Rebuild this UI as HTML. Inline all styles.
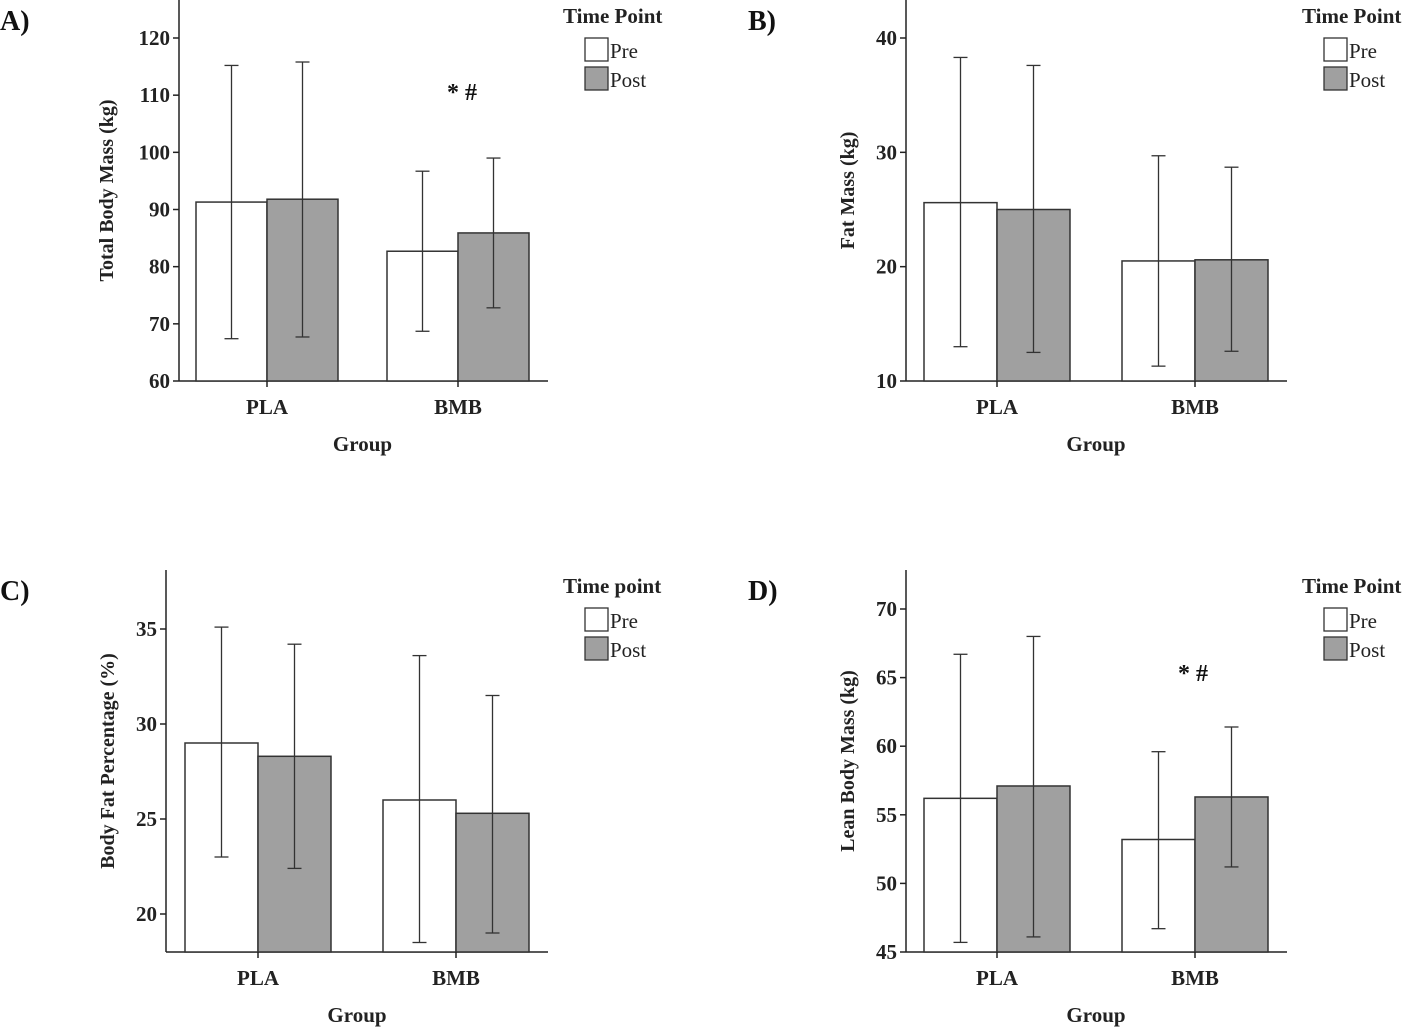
<!DOCTYPE html>
<html><head><meta charset="utf-8"><style>
body{margin:0;background:#fff}
svg{display:block;font-family:"Liberation Serif",serif}
</style></head><body>
<svg id="c" width="1418" height="1028"></svg>
<script>
const categories=["PLA","BMB"];
const aPre=[91.3,82.7], aPost=[91.8,85.9], aPreLo=[67.4,68.7], aPreHi=[115.2,96.7], aPostLo=[67.7,72.8], aPostHi=[115.8,99.0], aTicks=[60,70,80,90,100,110,120];
const bPre=[25.6,20.5], bPost=[25.0,20.6], bPreLo=[13.0,11.3], bPreHi=[38.3,29.7], bPostLo=[12.5,12.6], bPostHi=[37.6,28.7], bTicks=[10,20,30,40];
const cPre=[29.0,26.0], cPost=[28.3,25.3], cPreLo=[23.0,18.5], cPreHi=[35.1,33.6], cPostLo=[22.4,19.0], cPostHi=[34.2,31.5], cTicks=[20,25,30,35];
const dPre=[56.2,53.2], dPost=[57.1,56.3], dPreLo=[45.7,46.7], dPreHi=[66.7,59.6], dPostLo=[46.1,51.2], dPostHi=[68.0,61.4], dTicks=[45,50,55,60,65,70];
const NS="http://www.w3.org/2000/svg", svg=document.getElementById('c');
function mk(t,a,p,name){const e=document.createElementNS(NS,t);for(const k in a)e.setAttribute(k,a[k]);


(p||svg).appendChild(e);return e;}
function panel(o){
  const g=mk('g',{},svg,o.id);
  const y=v=>o.y0+(v-o.v0)*(o.y1-o.y0)/(o.v1-o.v0);
  mk('line',{x1:o.ax,y1:o.top,x2:o.ax,y2:o.bottom,stroke:'#222','stroke-width':1.5},g,'y-axis');
  mk('line',{x1:o.ax,y1:o.bottom,x2:o.axEnd,y2:o.bottom,stroke:'#222','stroke-width':1.5},g,'x-axis');
  o.ticks.forEach(t=>{const ty=y(t);
    mk('line',{x1:o.ax-6,y1:ty,x2:o.ax,y2:ty,stroke:'#222','stroke-width':1.5},g,'y-tick');
    const tx=mk('text',{x:o.ax-9,y:ty+7,'text-anchor':'end','font-size':21,'font-weight':'bold',fill:'#222'},g,'y-tick-label');tx.textContent=t;});
  const t=mk('text',{transform:`translate(${o.ax-o.tOff},${(o.top+o.bottom)/2}) rotate(-90)`,'text-anchor':'middle','font-size':20,'font-weight':'bold',fill:'#222'},g,'y-axis-title');t.textContent=o.title;
  categories.forEach((c,i)=>{
    const cx=o.cx[i],w=o.bw;
    [[o.pre,o.preLo,o.preHi,'#fff',cx-w,'pre'],[o.post,o.postLo,o.postHi,'#a0a0a0',cx,'post']].forEach(s=>{
      const v=s[0][i],top=y(v);
      mk('rect',{x:s[4],y:top,width:w,height:o.bottom-top,fill:s[3],stroke:'#333','stroke-width':1.5},g,'bar-'+c.toLowerCase()+'-'+s[5]);
      const m=s[4]+w/2,lo=y(s[1][i]),hi=y(s[2][i]);
      mk('line',{x1:m,y1:lo,x2:m,y2:hi,stroke:'#333','stroke-width':1.3},g,'error-bar');
      mk('line',{x1:m-7,y1:lo,x2:m+7,y2:lo,stroke:'#333','stroke-width':1.3},g,'error-cap');
      mk('line',{x1:m-7,y1:hi,x2:m+7,y2:hi,stroke:'#333','stroke-width':1.3},g,'error-cap');
    });
    mk('line',{x1:cx,y1:o.bottom,x2:cx,y2:o.bottom+6,stroke:'#222','stroke-width':1.5},g,'x-tick');
    const l=mk('text',{x:cx,y:o.bottom+33,'text-anchor':'middle','font-size':21,'font-weight':'bold',fill:'#222'},g,'x-tick-label');l.textContent=c;
  });
  const gx=mk('text',{x:(o.cx[0]+o.cx[1])/2,y:o.bottom+70,'text-anchor':'middle','font-size':21,'font-weight':'bold',fill:'#222'},g,'x-axis-title');gx.textContent='Group';
  const L=mk('text',{x:o.labX,y:o.top+30,'font-size':28,'font-weight':'bold',fill:'#111'},g,'panel-label');L.textContent=o.label;
  const lx=o.lx,ly=o.top;
  const lt=mk('text',{x:lx,y:ly+23,'font-size':21,'font-weight':'bold',fill:'#222'},g,'legend-title');lt.textContent=o.legTitle;
  [['Pre','#fff',38],['Post','#a0a0a0',67]].forEach(e=>{
    mk('rect',{x:lx+22,y:ly+e[2],width:23,height:23,fill:e[1],stroke:'#333','stroke-width':1.3},g,'legend-swatch-'+e[0].toLowerCase());
    const tx=mk('text',{x:lx+47,y:ly+e[2]+20,'font-size':21,fill:'#222'},g,'legend-entry-'+e[0].toLowerCase());tx.textContent=e[0];
  });
  if(o.star){const s=mk('text',{x:o.star[0],y:o.star[1],'text-anchor':'middle','font-size':24,'font-weight':'bold',fill:'#111'},g,'significance-marker');s.textContent='* #';}
}
panel({id:'panel-a',label:'A)',labX:0,tOff:66,ax:179,axEnd:548,top:0,bottom:381,y0:381,v0:60,y1:38,v1:120,cx:[267,458],bw:71,ticks:aTicks,pre:aPre,post:aPost,preLo:aPreLo,preHi:aPreHi,postLo:aPostLo,postHi:aPostHi,title:'Total Body Mass (kg)',lx:563,legTitle:'Time Point',star:[462,100]});
panel({id:'panel-b',label:'B)',labX:748,tOff:52,ax:906,axEnd:1287,top:0,bottom:381,y0:381,v0:10,y1:38,v1:40,cx:[997,1195],bw:73,ticks:bTicks,pre:bPre,post:bPost,preLo:bPreLo,preHi:bPreHi,postLo:bPostLo,postHi:bPostHi,title:'Fat Mass (kg)',lx:1302,legTitle:'Time Point'});
panel({id:'panel-c',label:'C)',labX:0,tOff:52,ax:166,axEnd:548,top:570,bottom:952,y0:914,v0:20,y1:629,v1:35,cx:[258,456],bw:73,ticks:cTicks,pre:cPre,post:cPost,preLo:cPreLo,preHi:cPreHi,postLo:cPostLo,postHi:cPostHi,title:'Body Fat Percentage (%)',lx:563,legTitle:'Time point'});
panel({id:'panel-d',label:'D)',labX:748,tOff:52,ax:906,axEnd:1287,top:570,bottom:952,y0:952,v0:45,y1:609,v1:70,cx:[997,1195],bw:73,ticks:dTicks,pre:dPre,post:dPost,preLo:dPreLo,preHi:dPreHi,postLo:dPostLo,postHi:dPostHi,title:'Lean Body Mass (kg)',lx:1302,legTitle:'Time Point',star:[1193,681]});
</script>
</body></html>
